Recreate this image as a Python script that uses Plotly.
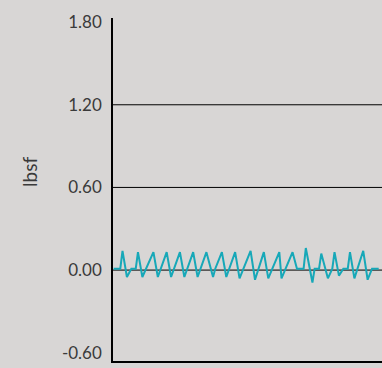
import plotly.graph_objects as go

# sample index (time) and force reading in lbsf
sample = [0, 3, 4, 6, 8, 10, 11, 13, 18, 20, 24, 26, 30, 32, 36, 38, 42, 45, 46, 49,
          51, 55, 57, 62, 64, 68, 70, 75, 76, 81, 83, 86, 87, 90, 91, 93, 94, 97, 99, 100,
          102, 104, 106, 107, 109, 113, 115, 117, 120]
lbsf = [0.01, 0.01, 0.14, -0.05, 0.01, 0.01, 0.13, -0.05, 0.13, -0.05, 0.13, -0.05, 0.13, -0.05, 0.13, -0.05, 0.13, -0.05, 0.01, 0.13,
        -0.05, 0.13, -0.06, 0.14, -0.07, 0.13, -0.06, 0.13, -0.06, 0.13, 0.01, 0.01, 0.16, -0.09, 0.01, 0.01, 0.12, -0.06, 0.01, 0.13,
        -0.04, 0.01, 0.01, 0.13, -0.06, 0.14, -0.07, 0.01, 0.01]

tick_vals = [-0.6, 0.0, 0.6, 1.2, 1.8]
tick_text = ['-0.60', '0.00', '0.60', '1.20', '1.80']
grid_vals = [0.0, 0.6, 1.2]

bg = '#d8d6d5'

fig = go.Figure()
fig.add_trace(go.Scatter(
    x=sample,
    y=lbsf,
    mode='lines',
    line=dict(color='#17a8b8', width=2),
    showlegend=False
))

for g in grid_vals:
    fig.add_hline(y=g, line=dict(color='black', width=1), layer='below')

fig.update_layout(
    width=382, height=368,
    margin=dict(l=113, r=0, t=18, b=7),
    paper_bgcolor=bg,
    plot_bgcolor=bg,
    font=dict(family='Lato', size=17, color='#3a3a3a'),
    xaxis=dict(
        range=[-0.3, 121.5],
        showgrid=False, zeroline=False, showticklabels=False, ticks='',
        showline=True, linecolor='black', linewidth=1.5
    ),
    yaxis=dict(
        range=[-0.66, 1.83],
        tickvals=tick_vals, ticktext=tick_text,
        showgrid=False, zeroline=False, ticks='',
        showline=True, linecolor='black', linewidth=1.5,
        ticklabelstandoff=6
    ),
    annotations=[dict(
        text='lbsf', textangle=-90, showarrow=False,
        xref='paper', yref='paper', x=-0.31, y=0.55,
        xanchor='center', yanchor='middle',
        font=dict(size=19, color='#3a3a3a')
    )]
)

# page has a default body margin; drop it so the chart fills the window
fig.write_html("out.html", config={'displayModeBar': False}, post_script=(
    "document.body.style.margin='0';"
    "document.body.style.background='" + bg + "';"
))
